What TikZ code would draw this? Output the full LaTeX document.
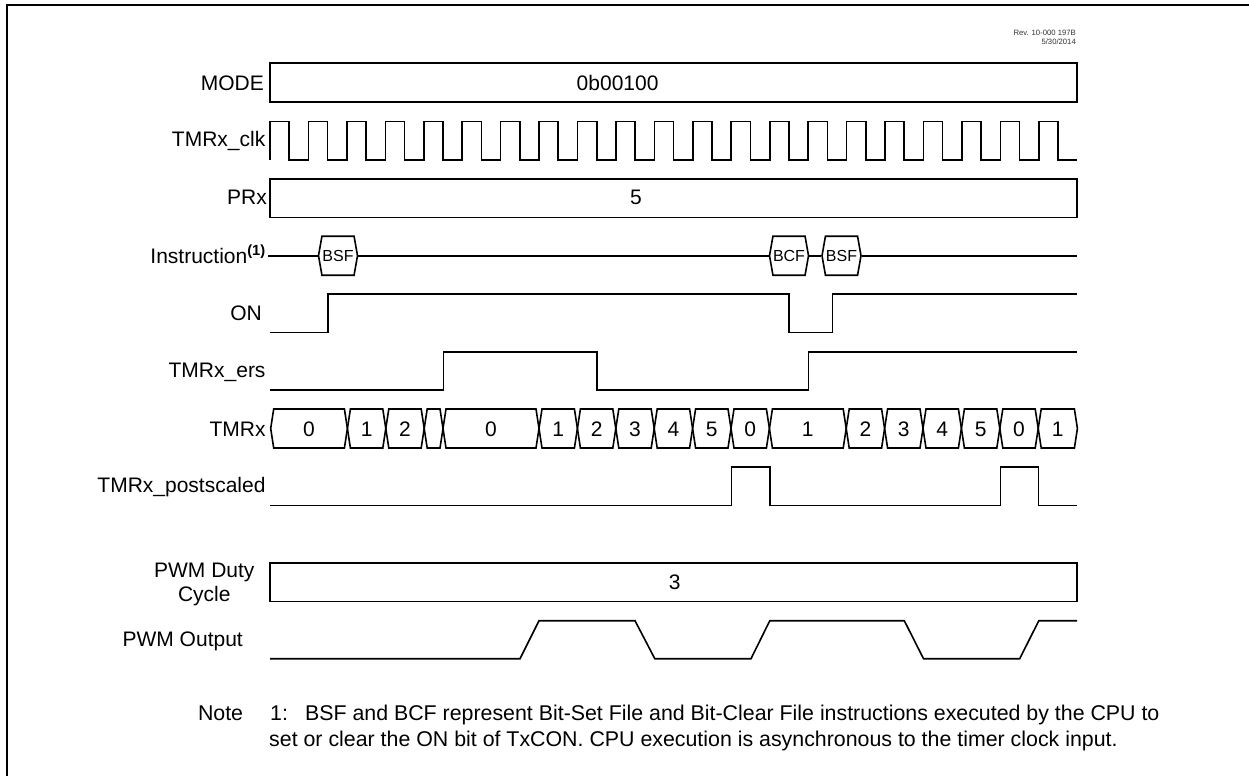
\documentclass[tikz,border=0pt]{standalone}
\usepackage{fontspec}
\setmainfont{Liberation Sans}
\usetikzlibrary{positioning, shapes}

\tikzset{
    wave/.style={line width=1.6pt, line join=miter},
    lbl/.style={anchor=base east, inner sep=0pt, font=\fontsize{21}{25}\selectfont},
    val/.style={anchor=base, inner sep=0pt, font=\fontsize{21}{25}\selectfont},
    note/.style={anchor=base west, inner sep=0pt, font=\fontsize{21.35}{25}\selectfont},
    rev/.style={anchor=base east, inner sep=0pt, font=\fontsize{7.7}{10}\selectfont, text=black!80},
    instr/.style={signal, signal to=west and east, signal pointer angle=160,
        draw, line width=1.6pt, minimum width=39pt, minimum height=39pt, inner sep=0pt,
        font=\fontsize{16}{18}\selectfont},
}

\begin{document}
\begin{tikzpicture}[x=1pt, y=-1pt]
    \useasboundingbox (0,0) rectangle (1249,776);

    % frame
    \draw[line width=2pt] (6.8,776) -- (6.8,5) -- (1249,5);

    % revision
    \node[rev] (revline) at (1076,36) {Rev. 10-000 197B};
    \node[rev] (revdate) at (1076,45) {5/30/2014};

    % labels
    \node[lbl] (lblmode) at (264,90) {MODE};
    \node[lbl] (lblclk) at (265.5,146.7) {TMRx\_clk};
    \node[lbl] (lblpr) at (267,204.7) {PRx};
    \node[lbl] (lblinstr) at (266,263.3) {Instruction\textsuperscript{\textbf{(1)}}};
    \node[lbl] (lblon) at (262,320) {ON};
    \node[lbl] (lblers) at (265.7,377.7) {TMRx\_ers};
    \node[lbl] (lbltmr) at (265.7,436) {TMRx};
    \node[lbl] (lblpost) at (265.7,492.7) {TMRx\_postscaled};
    \node[val] (lblduty) at (204.3,577.3) {PWM Duty};
    \node[val] (lblcycle) at (204.3,601.7) {Cycle};
    \node[lbl] (lblout) at (243,646.7) {PWM Output};

    % boxes
    \draw[wave] (270,63.3) rectangle (1077,101.7);
    \node[val] (valmode) at (617.6,90) {0b00100};
    \draw[wave] (270,179) rectangle (1077,217.3);
    \node[val] (valpr) at (636,204.7) {5};
    \draw[wave] (270,563) rectangle (1077,601.3);
    \node[val] (valduty) at (674.7,589.5) {3};

    % clock
    \draw[wave] (270,160) foreach \k in {0,...,20} {
        -- ({270+38.44*\k},121.3) -- ({289.2+38.44*\k},121.3)
        -- ({289.2+38.44*\k},160) -- ({308.44+38.44*\k},160)
    };

    % instruction line
    \node[instr] (bsfa) at (338,255.7) {BSF};
    \node[instr] (bcf) at (789,255.7) {BCF};
    \node[instr] (bsfb) at (841.5,255.7) {BSF};
    \coordinate (instrstart) at (268,255.7);
    \coordinate (instrend) at (1077,255.7);
    \draw[wave] (instrstart) -- (bsfa.west);
    \draw[wave] (bsfa.east) -- (bcf.west);
    \draw[wave] (bcf.east) -- (bsfb.west);
    \draw[wave] (bsfb.east) -- (instrend);

    % levels
    \draw[wave] (270,332.3) -- (328,332.3) -- (328,294) -- (789,294) -- (789,332.3) -- (832.6,332.3) -- (832.6,294) -- (1077,294);
    \draw[wave] (270,389.7) -- (443.5,389.7) -- (443.5,351.7) -- (596.8,351.7) -- (596.8,389.7) -- (808.5,389.7) -- (808.5,351.7) -- (1077,351.7);
    \draw[wave] (270,505.3) -- (731.5,505.3) -- (731.5,467) -- (770,467) -- (770,505.3) -- (1000.3,505.3) -- (1000.3,467) -- (1038.5,467) -- (1038.5,505.3) -- (1077,505.3);
    \draw[wave] (270,658.7) -- (520,658.7) -- (539,620.7) -- (635,620.7) -- (654.8,658.7) -- (751,658.7) -- (769.8,620.7) -- (904.3,620.7) -- (923.5,658.7) -- (1019.7,658.7) -- (1038.8,620.7) -- (1077,620.7);

    % counter
    \foreach \xa/\xb/\val [count=\i] in {270.7/347.4/0, 347.4/385.8/1, 385.8/424.2/2, 424.2/443/{}, 443/539/0, 539/577.4/1,
        577.4/615.8/2, 615.8/654.2/3, 654.2/692.6/4, 692.6/731/5, 731/769.4/0, 769.4/846.2/1, 846.2/884.6/2,
        884.6/923/3, 923/961.4/4, 961.4/999.8/5, 999.8/1038.2/0, 1038.2/1077.4/1} {
        \draw[wave] (\xa,428.5) -- (\xa+3,409) -- (\xb-3,409) -- (\xb,428.5) -- (\xb-3,448) -- (\xa+3,448) -- cycle;
        \node[val] (bus\i) at ({(\xa+\xb)/2},436) {\val};
    }

    % note
    \node[note] (notehead) at (197.8,720) {Note};
    \node[note] (noteno) at (270,720) {1:};
    \node[note] (notea) at (304.9,720) {BSF and BCF represent Bit-Set File and Bit-Clear File instructions executed by the CPU to};
    \node[note] (noteb) at (269,746) {set or clear the ON bit of TxCON. CPU execution is asynchronous to the timer clock input.};
\end{tikzpicture}
\end{document}
